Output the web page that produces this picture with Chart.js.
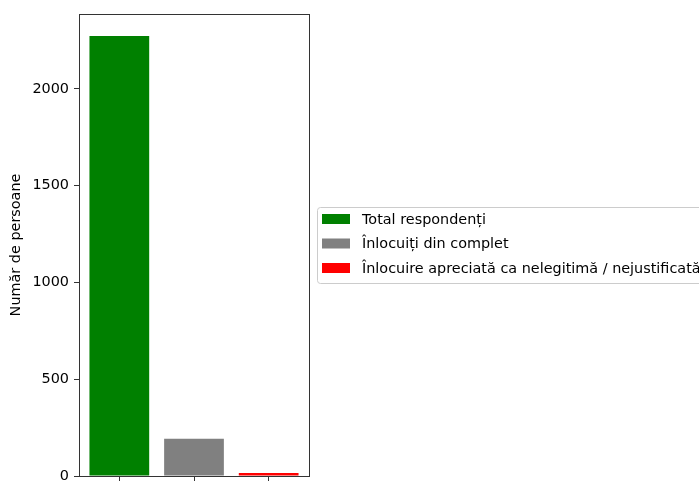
<!DOCTYPE html>
<html>
<head>
<meta charset="utf-8">
<script src="https://cdn.jsdelivr.net/npm/chart.js@4/dist/chart.umd.min.js"></script>
<style>
    html, body { margin: 0; padding: 0; background: #fff; }
    #wrap { width: 699px; height: 481px; position: relative; }
</style>
</head>
<body>
<div id="wrap"><canvas id="chart"></canvas></div>
<script>
// date din grafic
const labels = ['Total respondenți', 'Înlocuiți din complet', 'Înlocuire apreciată ca nelegitimă / nejustificată'];
const values = [2273, 193, 16];
const colors = ['#008000', '#808080', '#ff0000'];
const yTicks = [0, 500, 1000, 1500, 2000];
const yTitle = 'Număr de persoane';

const FONT = "'DejaVu Sans', sans-serif";
const FS = 14.4;
const yMax = Math.max(...values) * 1.05;

// cadru + legenda in stil matplotlib
const framePlugin = {
    id: 'frame',
    afterDraw(chart) {
        const { ctx, chartArea: a } = chart;
        ctx.save();
        ctx.strokeStyle = '#333';
        ctx.lineWidth = 1;
        ctx.strokeRect(Math.round(a.left) + 0.5, Math.round(a.top) + 0.5,
            Math.round(a.right - a.left), Math.round(a.bottom - a.top));

        // legenda
        const bx = 317, by = 207.5, bw = 420, bh = 76;
        ctx.fillStyle = 'rgba(255,255,255,0.8)';
        ctx.strokeStyle = '#cccccc';
        ctx.beginPath();
        ctx.roundRect(bx + 0.5, by, bw, bh, 3);
        ctx.fill();
        ctx.stroke();

        const rows = [219, 243.5, 268];
        ctx.font = FS + 'px ' + FONT;
        ctx.textBaseline = 'middle';
        ctx.textAlign = 'left';
        chart.data.datasets.forEach((ds, i) => {
            ctx.fillStyle = ds.backgroundColor;
            ctx.fillRect(322, rows[i] - 5, 28, 10);
            ctx.fillStyle = '#000';
            ctx.fillText(ds.label, 362, rows[i] + 1);
        });
        ctx.restore();
    }
};

new Chart(document.getElementById('chart'), {
    type: 'bar',
    data: {
        datasets: labels.map((label, i) => ({
            label: label,
            data: [{ x: i, y: values[i] }],
            backgroundColor: colors[i],
            borderWidth: 0
        }))
    },
    options: {
        responsive: true,
        maintainAspectRatio: false,
        animation: false,
        grouped: false,
        barPercentage: 0.8,
        categoryPercentage: 1,
        layout: { padding: { left: 0, top: 14, right: 390, bottom: 0 } },
        plugins: {
            legend: { display: false },
            tooltip: { enabled: false }
        },
        scales: {
            x: {
                type: 'linear',
                offset: false,
                min: -0.54,
                max: 2.54,
                afterFit: s => { s.height = 5; },
                afterBuildTicks: s => { s.ticks = [0, 1, 2].map(v => ({ value: v })); },
                ticks: { display: false },
                grid: { offset: false, drawOnChartArea: false, drawTicks: true, tickLength: 5, color: '#333' },
                border: { display: true, color: '#333' }
            },
            y: {
                min: 0,
                max: yMax,
                afterFit: s => { s.width = 79; s.paddingTop = 0; s.paddingBottom = 0; },
                afterBuildTicks: s => { s.ticks = yTicks.map(v => ({ value: v })); },
                ticks: {
                    color: '#000',
                    padding: 5,
                    font: { family: FONT, size: FS },
                    callback: v => String(v)
                },
                grid: { drawOnChartArea: false, drawTicks: true, tickLength: 5, color: '#333' },
                border: { display: true, color: '#333' },
                title: {
                    display: true,
                    text: yTitle,
                    color: '#000',
                    padding: { top: 8, bottom: 0 },
                    font: { family: FONT, size: FS }
                }
            }
        }
    },
    plugins: [framePlugin]
});
</script>
</body>
</html>
